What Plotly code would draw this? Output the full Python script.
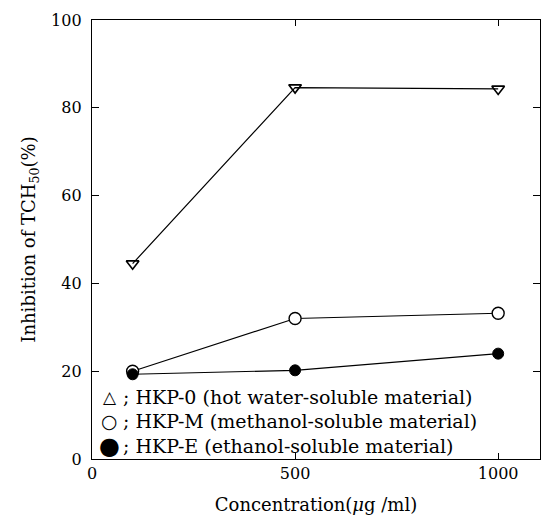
import plotly.graph_objects as go

concentration = [100, 500, 1000]
hkp_0 = [44.5, 84.6, 84.3]
hkp_m = [20.0, 32.0, 33.2]
hkp_e = [19.3, 20.2, 24.0]

legend_symbols = ["△", "○", "●"]
legend_labels = ["; HKP-0 (hot water-soluble material)",
                 "; HKP-M (methanol-soluble material)",
                 "; HKP-E (ethanol-soluble material)"]

x_ticks = [0, 500, 1000]
y_ticks = [0, 20, 40, 60, 80, 100]

FONT = "DejaVu Serif, Liberation Serif, serif"

fig = go.Figure()
fig.add_trace(go.Scatter(x=concentration, y=hkp_0, mode="lines+markers",
                         line=dict(color="black", width=1.2),
                         marker=dict(symbol="triangle-down-open", size=11, color="black",
                                     line=dict(width=1.6, color="black"))))
fig.add_trace(go.Scatter(x=concentration, y=hkp_m, mode="lines+markers",
                         line=dict(color="black", width=1.2),
                         marker=dict(symbol="circle", size=12, color="white",
                                     line=dict(width=1.4, color="black"))))
fig.add_trace(go.Scatter(x=concentration, y=hkp_e, mode="lines+markers",
                         line=dict(color="black", width=1.2),
                         marker=dict(symbol="circle", size=11, color="black",
                                     line=dict(width=1, color="black"))))

row_y = [0.142, 0.086, 0.030]
sym_sizes = [17, 19, 24]
for sym, lab, yy, ss in zip(legend_symbols, legend_labels, row_y, sym_sizes):
    fig.add_annotation(xref="paper", yref="paper", x=0.04, y=yy, text=sym,
                       showarrow=False, xanchor="center", yanchor="middle",
                       font=dict(family="DejaVu Sans", size=ss, color="black"))
    fig.add_annotation(xref="paper", yref="paper", x=0.065, y=yy, text=lab,
                       showarrow=False, xanchor="left", yanchor="middle",
                       font=dict(family=FONT, size=19, color="black"))

fig.update_layout(
    width=552, height=526,
    margin=dict(l=92, r=12, t=11, b=67),
    paper_bgcolor="white", plot_bgcolor="white",
    showlegend=False,
    font=dict(family=FONT, size=16, color="black"),
    xaxis=dict(range=[0, 1103], tickvals=x_ticks, ticktext=[str(v) for v in x_ticks],
               ticks="inside", ticklen=6, tickwidth=1.2, tickcolor="black",
               showline=True, linecolor="black", linewidth=1.4, mirror="ticks",
               showgrid=False, zeroline=False,
               title=dict(text="Concentration(<i>μ</i>g /ml)", font=dict(size=18), standoff=15),
               tickfont=dict(size=16)),
    yaxis=dict(range=[0, 100], tickvals=y_ticks,
               ticks="inside", ticklen=7, tickwidth=1.2, tickcolor="black",
               showline=True, linecolor="black", linewidth=1.4, mirror="ticks",
               showgrid=False, zeroline=False, ticklabelstandoff=6,
               title=dict(text="Inhibition of TCH<sub>50</sub>(%)", font=dict(size=18), standoff=10),
               tickfont=dict(size=16)),
)

fig.write_html("out.html")
